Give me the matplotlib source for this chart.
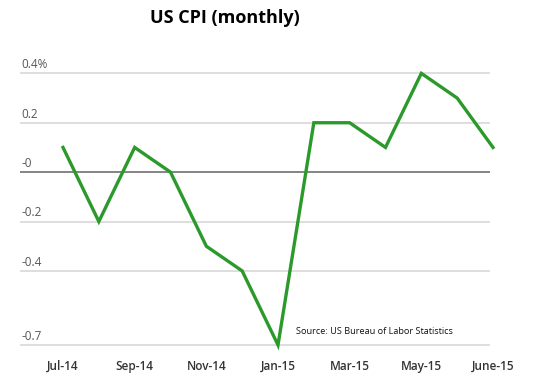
import matplotlib.pyplot as plt

months = ["Jul-14", "Aug-14", "Sep-14", "Oct-14", "Nov-14", "Dec-14", "Jan-15",
          "Feb-15", "Mar-15", "Apr-15", "May-15", "Jun-15", "June-15"]
cpi = [0.1, -0.2, 0.1, 0.0, -0.3, -0.4, -0.7, 0.2, 0.2, 0.1, 0.4, 0.3, 0.1]
ytick_vals = [0.4, 0.2, 0.0, -0.2, -0.4, -0.7]
ytick_labels = ["0.4%", "0.2", "-0", "-0.2", "-0.4", "-0.7"]
xtick_idx = [0, 2, 4, 6, 8, 10, 12]

plt.rcParams['font.family'] = ['Open Sans', 'DejaVu Sans']

fig = plt.figure(figsize=(5.33, 3.79), dpi=100)
ax = fig.add_axes([20 / 533, 1 - 345 / 379, (493 - 20) / 533, (345 - 61) / 379])
ax.set_xlim(-1.2, 12.0)
ax.set_ylim(-0.7, 0.45)
ax.axis("off")

x = list(range(len(cpi)))

# gridlines
for v in ytick_vals:
    col = "#707070" if v == 0 else "#d8d8d8"
    ax.hlines(v, -1.2, 11.92, color=col, lw=1.2, clip_on=False, zorder=1)

ax.plot(x, cpi, color="#2b9a2b", lw=2.4, clip_on=False, zorder=3,
        solid_joinstyle="miter")

# y labels sit above the grid lines
for v, lab in zip(ytick_vals, ytick_labels):
    ax.annotate(lab, (-1.15, v), xytext=(0, 1.5), textcoords="offset points",
                ha="left", va="bottom", fontsize=8.5, color="#555555")

# x labels
for i in xtick_idx:
    ax.annotate(months[i], (i, -0.7), xytext=(0, -11), textcoords="offset points",
                ha="center", va="top", fontsize=8.5, color="#333333",
                fontweight="semibold", annotation_clip=False)

ax.annotate("Source: US Bureau of Labor Statistics", (296 / 533, 1 - 332 / 379),
            xycoords="figure fraction", ha="left", va="center",
            fontsize=6.6, color="#111111")

fig.text(225 / 533, 1 - 18 / 379, "US CPI (monthly)", ha="center", va="center",
         fontsize=13, fontweight="bold", color="#000000")

fig.savefig("out.png", dpi=100)
